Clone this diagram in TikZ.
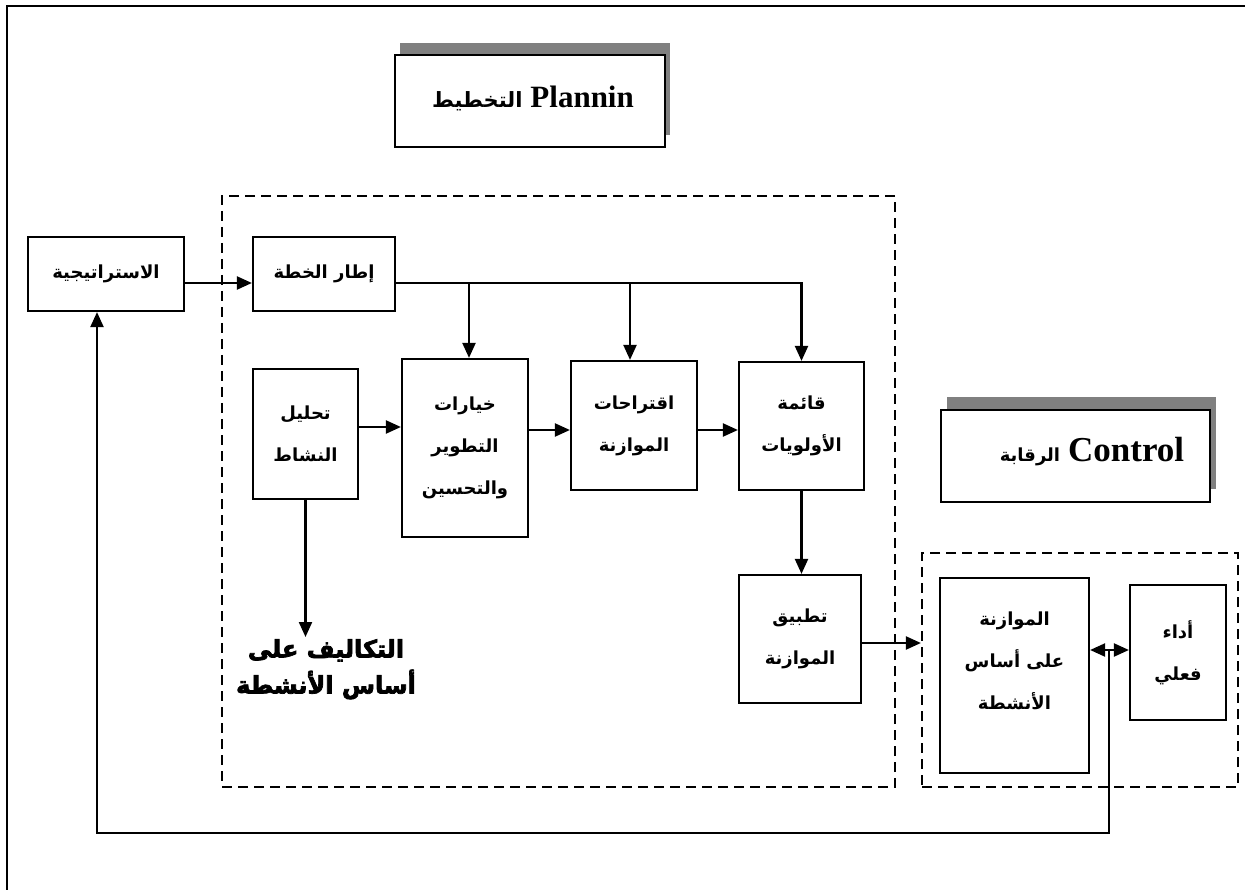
\documentclass[tikz,border=0pt]{standalone}
\usepackage{fontspec}
\setmainfont{Liberation Serif}
\newfontfamily\arabicfont[Script=Arabic]{DejaVu Sans}
\newfontfamily\heavyarabic[Script=Arabic,BoldFeatures={FakeBold=3}]{DejaVu Sans}
\TeXXeTstate=1
\usetikzlibrary{arrows.meta,shadows}
\definecolor{shadowgray}{RGB}{128,128,128}
% one line of Arabic, bold, right to left
\newcommand{\ar}[1]{{\arabicfont\bfseries\beginR#1\endR}}
\newcommand{\heavy}[1]{{\heavyarabic\bfseries\beginR#1\endR}}
\newcommand{\bxfont}{\fontsize{18}{42}\selectfont}

\begin{document}
\begin{tikzpicture}[x=1pt,y=-1pt,
  box/.style={draw, line width=2.2pt, fill=white, inner sep=0pt, align=center, font=\bxfont},
  zone/.style={draw, line width=2.2pt, dash pattern=on 10pt off 6pt, inner sep=0pt},
  titlebox/.style={draw, line width=2.2pt, fill=white, inner sep=0pt},
  plshadow/.style={drop shadow={shadow xshift=5pt, shadow yshift=12pt, fill=shadowgray, opacity=1}},
  ctshadow/.style={drop shadow={shadow xshift=6pt, shadow yshift=13pt, fill=shadowgray, opacity=1}},
  arr/.style={line width=2.2pt, -{Triangle[length=15pt,width=13pt]}}]

\fill[white] (0,0) rectangle (1245,890);
\useasboundingbox (0,0) rectangle (1245,890);

% page frame (left and top edges)
\draw[line width=2.6pt] (7,890) -- (7,6) -- (1245,6);

% dashed zones: planning and control
\node[zone, minimum width=673pt, minimum height=591pt] (planzone) at (558.5,491.5) {};
\node[zone, minimum width=316pt, minimum height=234pt] (ctrlzone) at (1080,670) {};

% title boxes
\node[titlebox, plshadow, minimum width=270pt, minimum height=92pt] (plan) at (530,101) {};
\node[inner sep=0pt] (planT) at (533,98)
  {{\fontsize{21}{30}\selectfont\ar{التخطيط}}\hspace{8pt}{\fontsize{31}{36}\selectfont\bfseries Plannin}};
\node[titlebox, ctshadow, minimum width=269pt, minimum height=92pt] (ctrl) at (1075.5,456) {};
\node[inner sep=0pt] (ctrlT) at (1092,452)
  {{\fontsize{18}{30}\selectfont\ar{الرقابة}}\hspace{8pt}{\fontsize{35}{40}\selectfont\bfseries Control}};

% process boxes
\node[box, minimum width=156pt, minimum height=74pt] (strat) at (106,274) {\ar{الاستراتيجية}};
\node[box, minimum width=142pt, minimum height=74pt] (frame) at (324,274) {\ar{إطار الخطة}};
\node[box, minimum width=105pt, minimum height=130pt] (tahlil) at (305.5,434) {\ar{تحليل}\\\ar{النشاط}};
\node[box, minimum width=126pt, minimum height=178pt] (khiyar) at (465,448) {\ar{خيارات}\\\ar{التطوير}\\\ar{والتحسين}};
\node[box, minimum width=126pt, minimum height=129pt] (iqtirah) at (634,425.5) {\ar{اقتراحات}\\\ar{الموازنة}};
\node[box, minimum width=125pt, minimum height=128pt] (qaima) at (801.5,426) {\ar{قائمة}\\\ar{الأولويات}};
\node[box, minimum width=122pt, minimum height=128pt] (tatbiq) at (800,639) {\ar{تطبيق}\\\ar{الموازنة}};
\node[box, minimum width=149pt, minimum height=195pt] (muwaz) at (1014.5,675.5) {\ar{الموازنة}\\\ar{على أساس}\\\ar{الأنشطة}\\[-12pt]\mbox{}};
\node[box, minimum width=96pt, minimum height=135pt] (adaa) at (1178,652.5) {\ar{أداء}\\\ar{فعلي}};

% output of the activity analysis
\node[align=center, anchor=north, inner sep=2pt, font=\fontsize{24}{36}\selectfont] (cost) at (326,637)
  {\heavy{التكاليف على}\\\heavy{أساس الأنشطة}};

% helper levels for the connectors
\coordinate (busY) at (0,283);
\coordinate (rowA) at (0,427);
\coordinate (rowB) at (0,430);
\coordinate (rowC) at (0,643);
\coordinate (fbBase) at (0,833);
\coordinate (j1) at (469,283);
\coordinate (j2) at (630,283);
\coordinate (fb) at (1109,650);

% connectors
\draw[arr] (strat.east |- busY) -- (frame.west |- busY);
\draw[arr] (frame.east |- busY) -| (qaima.north);
\draw[arr] (j1) -- (j1 |- khiyar.north);
\draw[arr] (j2) -- (j2 |- iqtirah.north);
\draw[arr] (tahlil.east |- rowA) -- (khiyar.west |- rowA);
\draw[arr] (khiyar.east |- rowB) -- (iqtirah.west |- rowB);
\draw[arr] (iqtirah.east |- rowB) -- (qaima.west |- rowB);
\draw[arr] (qaima.south) -- (qaima.south |- tatbiq.north);
\draw[arr] (tahlil.south) -- (tahlil.south |- cost.north);
\draw[arr] (tatbiq.east |- rowC) -- (ctrlzone.west |- rowC);
\draw[arr] (fb) -- (muwaz.east |- fb);
\draw[arr] (fb) -- (adaa.west |- fb);
\draw[arr] (fb) |- ([xshift=-9pt]strat.south |- fbBase) -- ([xshift=-9pt]strat.south);

\end{tikzpicture}
\end{document}
